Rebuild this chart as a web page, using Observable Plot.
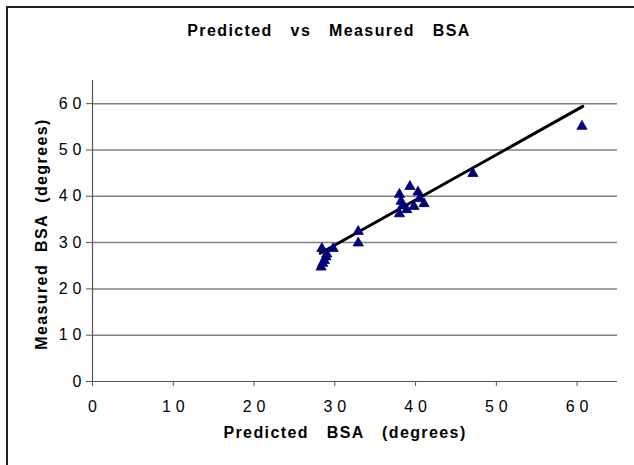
<!DOCTYPE html>
<html>
<head>
<meta charset="utf-8">
<script src="https://cdn.jsdelivr.net/npm/d3@7"></script>
<script src="https://cdn.jsdelivr.net/npm/@observablehq/plot@0.6"></script>
<style>
  html, body { margin: 0; padding: 0; background: #fff; }
  #wrap { position: relative; width: 634px; height: 465px; overflow: hidden; font-family: "Liberation Sans", Arial, sans-serif; }
  #frame { position: absolute; left: 6px; top: 6px; width: 700px; height: 600px; border-left: 2px solid #222; border-top: 2px solid #222; box-sizing: border-box; }
  #title { position: absolute; left: 0; width: 658px; top: 22px; text-align: center; font-weight: bold; font-size: 16px; word-spacing: 12px; letter-spacing: 1.4px; color: #000; }
  #ytitle { position: absolute; left: 42px; top: 234px; transform: translate(-50%, -50%) rotate(-90deg); white-space: nowrap; font-weight: bold; font-size: 16px; word-spacing: 6px; letter-spacing: 1.4px; color: #000; line-height: 18px; z-index: 2; }
  #chart { position: absolute; left: 0; top: 0; }
  #chart g[aria-label="x-axis tick label"] text,
  #chart g[aria-label="y-axis tick label"] text { letter-spacing: 5px; }
</style>
</head>
<body>
<div id="wrap">
  <div id="frame"></div>
  <div id="title">Predicted vs Measured BSA</div>
  <div id="chart"></div>
  <div id="ytitle"></div>
</div>
<script>
const xTicks = [0, 10, 20, 30, 40, 50, 60];
const yTicks = [0, 10, 20, 30, 40, 50, 60];
const predicted = [39.3, 38.0, 40.3, 41.05, 39.8, 38.0, 38.9, 38.4, 40.5, 38.2,
                   32.9, 32.9, 29.8, 28.4, 28.9, 28.7, 28.3, 28.5, 29.0, 47.1, 60.6];
const measured  = [42.1, 40.4, 40.9, 38.4, 37.8, 36.2, 37.1, 38.0, 39.5, 38.9,
                   32.4, 29.9, 28.7, 28.7, 26.9, 26.1, 24.7, 25.5, 27.5, 44.9, 55.1];
const trendX = [28.2, 60.7];
const trendY = [27.7, 59.4];
const xTitle = "Predicted BSA (degrees)";
const yTitle = "Measured BSA (degrees)";

const points = predicted.map((p, i) => ({p, m: measured[i]}));
const trend = trendX.map((x, i) => ({x, y: trendY[i]}));

const chart = Plot.plot({
  width: 634,
  height: 465,
  marginLeft: 92,
  marginRight: 17,
  marginTop: 80,
  marginBottom: 84,
  x: {domain: [0, 65]},
  y: {domain: [0, 65]},
  style: {fontFamily: '"Liberation Sans", Arial, sans-serif', fontSize: "16px", color: "#000", background: "transparent", overflow: "visible"},
  marks: [
    Plot.gridY(yTicks.filter(d => d > 0), {stroke: "#808080", strokeOpacity: 1, strokeWidth: 1.5}),
    Plot.ruleX([0], {stroke: "#555", strokeWidth: 1.2}),
    Plot.ruleY([0], {stroke: "#555", strokeWidth: 1.2}),
    Plot.axisX(xTicks, {tickSize: 5, tickPadding: 14, label: null, stroke: "#555", fill: "#000", fontSize: 16}),
    Plot.axisY(yTicks, {tickSize: 6, tickPadding: 0, label: null, stroke: "#555", fill: "#000", fontSize: 16}),
    Plot.text([xTitle], {frameAnchor: "bottom", dy: 56.5, dx: -10, fontWeight: "bold", fontSize: 16}),
    Plot.line(trend, {x: "x", y: "y", stroke: "#000", strokeWidth: 3}),
    Plot.dot(points, {x: "p", y: "m", symbol: "triangle", r: 3.8, fill: "#000080", stroke: "#000060", strokeWidth: 0.8})
  ]
});
const svg = d3.select(chart);
svg.select('g[aria-label="x-axis tick label"]').selectAll("text").attr("dx", "2.5");
svg.selectAll("text").filter(function() { return this.textContent === xTitle; })
  .style("word-spacing", "12px").style("letter-spacing", "1.4px");
document.getElementById("chart").appendChild(chart);
document.getElementById("ytitle").textContent = yTitle;
</script>
</body>
</html>
